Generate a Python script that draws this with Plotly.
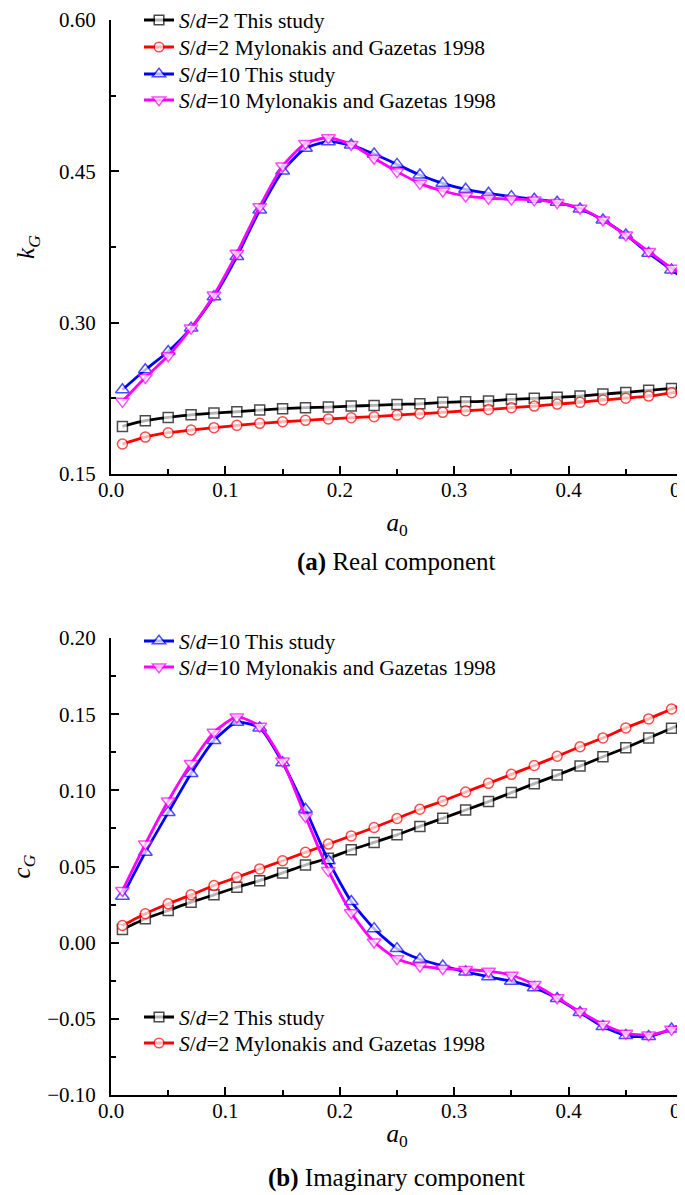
import plotly.graph_objects as go

a0 = [0.01, 0.03, 0.05, 0.07, 0.09, 0.11, 0.13, 0.15, 0.17, 0.19, 0.21, 0.23, 0.25,
      0.27, 0.29, 0.31, 0.33, 0.35, 0.37, 0.39, 0.41, 0.43, 0.45, 0.47, 0.49, 0.50]

# (a) Real component k_G
kG_sd2_study = [0.1972, 0.2028, 0.2061, 0.2087, 0.2104, 0.2117, 0.2134, 0.2147, 0.2157, 0.2163,
                0.2173, 0.2180, 0.2190, 0.2196, 0.2210, 0.2216, 0.2223, 0.2240, 0.2250, 0.2260,
                0.2272, 0.2292, 0.2309, 0.2329, 0.2348, 0.2360]
kG_sd2_mg = [0.1797, 0.1866, 0.1909, 0.1936, 0.1959, 0.1982, 0.2002, 0.2018, 0.2032, 0.2045,
             0.2058, 0.2068, 0.2084, 0.2097, 0.2111, 0.2127, 0.2140, 0.2157, 0.2173, 0.2193,
             0.2210, 0.2233, 0.2252, 0.2272, 0.2305, 0.2325]
kG_sd10_study = [0.2335, 0.2533, 0.2715, 0.2946, 0.3256, 0.3655, 0.4117, 0.4503, 0.4728, 0.4794,
                 0.4761, 0.4671, 0.4569, 0.4463, 0.4381, 0.4322, 0.4282, 0.4249, 0.4223, 0.4193,
                 0.4127, 0.4018, 0.3869, 0.3688, 0.3523, 0.3441]
kG_sd10_mg = [0.2220, 0.2457, 0.2672, 0.2946, 0.3275, 0.3688, 0.4150, 0.4553, 0.4777, 0.4833,
              0.4767, 0.4629, 0.4497, 0.4381, 0.4305, 0.4256, 0.4233, 0.4226, 0.4217, 0.4190,
              0.4134, 0.4018, 0.3869, 0.3705, 0.3540, 0.3473]

# (b) Imaginary component c_G
cG_sd2_study = [0.0087, 0.0157, 0.0211, 0.0266, 0.0314, 0.0364, 0.0407, 0.0458, 0.0510, 0.0554,
                0.0610, 0.0658, 0.0708, 0.0763, 0.0817, 0.0871, 0.0926, 0.0985, 0.1044, 0.1100,
                0.1159, 0.1220, 0.1279, 0.1344, 0.1407, 0.1438]
cG_sd2_mg = [0.0113, 0.0190, 0.0255, 0.0314, 0.0375, 0.0429, 0.0484, 0.0538, 0.0593, 0.0647,
             0.0701, 0.0756, 0.0815, 0.0876, 0.0930, 0.0989, 0.1046, 0.1105, 0.1163, 0.1224,
             0.1286, 0.1344, 0.1410, 0.1469, 0.1534, 0.1562]
cG_sd10_study = [0.0305, 0.0593, 0.0854, 0.1111, 0.1327, 0.1447, 0.1410, 0.1181, 0.0876, 0.0538,
                 0.0270, 0.0092, -0.0039, -0.0109, -0.0153, -0.0192, -0.0224, -0.0253, -0.0296, -0.0366,
                 -0.0458, -0.0551, -0.0610, -0.0616, -0.0567, -0.0529]
cG_sd10_mg = [0.0342, 0.0647, 0.0930, 0.1176, 0.1381, 0.1482, 0.1420, 0.1192, 0.0828, 0.0473,
              0.0196, 0.0004, -0.0105, -0.0153, -0.0170, -0.0176, -0.0187, -0.0214, -0.0275, -0.0362,
              -0.0453, -0.0536, -0.0595, -0.0606, -0.0569, -0.0530]

names = {
    "sd2s": "<i>S</i>/<i>d</i>=2 This study",
    "sd2m": "<i>S</i>/<i>d</i>=2 Mylonakis and Gazetas 1998",
    "sd10s": "<i>S</i>/<i>d</i>=10 This study",
    "sd10m": "<i>S</i>/<i>d</i>=10 Mylonakis and Gazetas 1998",
}
styles = {
    "sd2s": ("#000000", "square", 10),
    "sd2m": ("#ff0000", "circle", 10),
    "sd10s": ("#0000ff", "triangle-up", 12),
    "sd10m": ("#ff00ff", "triangle-down", 12),
}

FONT = "Liberation Serif"

# pixel geometry of the figure
L, R, T, B = 103, 10, 12, 108
W, H = 685, 1195
PH = H - T - B
PW = W - L - R


def py(ypx):
    return (H - B - ypx) / PH


def px(xpx):
    return (xpx - L) / PW


fig = go.Figure()
legend_layout = {}


def add(key, y, xa, ya, legend, ypos):
    color, sym, size = styles[key]
    msize = [size] * (len(a0) - 1) + [0]
    fig.add_trace(go.Scatter(
        x=a0, y=y, xaxis=xa, yaxis=ya, name=names[key], legend=legend,
        mode="lines+markers",
        line=dict(color=color, width=2.8, shape="spline", smoothing=0.6),
        marker=dict(symbol=sym, size=msize, color="white", line=dict(color=color, width=1.5)),
    ))
    legend_layout[legend] = dict(
        x=px(131), y=py(ypos), xanchor="left", yanchor="middle",
        bgcolor="rgba(0,0,0,0)", font=dict(family=FONT, size=21.5, color="black"),
    )


add("sd2s", kG_sd2_study, "x", "y", "legend", 12)
add("sd2m", kG_sd2_mg, "x", "y", "legend2", 39)
add("sd10s", kG_sd10_study, "x", "y", "legend3", 66)
add("sd10m", kG_sd10_mg, "x", "y", "legend4", 92)

add("sd2s", cG_sd2_study, "x2", "y2", "legend5", 1009)
add("sd2m", cG_sd2_mg, "x2", "y2", "legend6", 1035)
add("sd10s", cG_sd10_study, "x2", "y2", "legend7", 633)
add("sd10m", cG_sd10_mg, "x2", "y2", "legend8", 659)

axis_common = dict(
    showline=True, linecolor="black", linewidth=2, mirror=False,
    showgrid=False, zeroline=False, automargin=False,
    ticks="inside", ticklen=8, tickwidth=1.7, tickcolor="black",
    tickfont=dict(family=FONT, size=21, color="black"),
    ticklabeloverflow="allow",
)
minor_common = dict(ticks="inside", ticklen=5, tickwidth=1.7, tickcolor="black")

top_dom = [py(466), 1.0]
bot_dom = [0.0, py(630)]

fig.update_layout(
    width=W, height=H,
    margin=dict(l=L, r=R, t=T, b=B, autoexpand=False),
    paper_bgcolor="white", plot_bgcolor="white",
    font=dict(family=FONT, size=21, color="black"),
    xaxis=dict(domain=[0, 1], anchor="y", range=[0, 0.5], dtick=0.1, tickformat=".1f",
               ticklabelstandoff=-4,
               minor=dict(dtick=0.05, **minor_common),
               title=dict(text="<i>a</i><sub>0</sub>", font=dict(family=FONT, size=25), standoff=12),
               **axis_common),
    yaxis=dict(domain=top_dom, anchor="x", range=[0.15, 0.60], dtick=0.15, tickformat=".2f",
               ticklabelstandoff=9,
               minor=dict(dtick=0.075, **minor_common),
               title=dict(text="<i>k<sub>G</sub></i>", font=dict(family=FONT, size=25), standoff=17),
               **axis_common),
    xaxis2=dict(domain=[0, 1], anchor="y2", range=[0, 0.5], dtick=0.1, tickformat=".1f",
                ticklabelstandoff=-4,
                minor=dict(dtick=0.05, **minor_common),
                title=dict(text="<i>a</i><sub>0</sub>", font=dict(family=FONT, size=25), standoff=2),
                **axis_common),
    yaxis2=dict(domain=bot_dom, anchor="x2", range=[-0.10, 0.20], dtick=0.05, tickformat=".2f",
                ticklabelstandoff=9,
                minor=dict(dtick=0.025, **minor_common),
                title=dict(text="<i>c<sub>G</sub></i>", font=dict(family=FONT, size=25), standoff=17),
                **axis_common),
    showlegend=True,
    **legend_layout,
)

fig.add_annotation(text="<b>(a)</b> Real component", xref="paper", yref="paper",
                   x=px(388), y=py(554), showarrow=False,
                   font=dict(family=FONT, size=25, color="black"), xanchor="center", yanchor="middle")
fig.add_annotation(text="<b>(b)</b> Imaginary component", xref="paper", yref="paper",
                   x=px(388), y=py(1170), showarrow=False,
                   font=dict(family=FONT, size=25, color="black"), xanchor="center", yanchor="middle")

fig.write_html("out.html")
